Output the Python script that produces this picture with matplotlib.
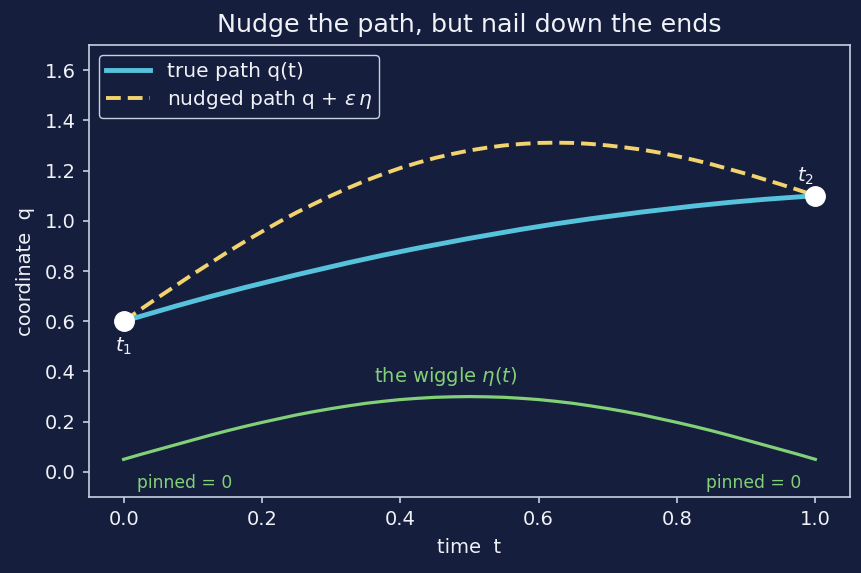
import matplotlib
matplotlib.use("Agg")
import matplotlib.pyplot as plt

t = [0.000, 0.025, 0.050, 0.075, 0.100, 0.125, 0.150, 0.175, 0.200, 0.225,
     0.250, 0.275, 0.300, 0.325, 0.350, 0.375, 0.400, 0.425, 0.450, 0.475,
     0.500, 0.525, 0.550, 0.575, 0.600, 0.625, 0.650, 0.675, 0.700, 0.725,
     0.750, 0.775, 0.800, 0.825, 0.850, 0.875, 0.900, 0.925, 0.950, 0.975, 1.000]
q_true = [0.600, 0.620, 0.640, 0.660, 0.679, 0.698, 0.716, 0.734, 0.751, 0.768,
          0.785, 0.801, 0.817, 0.833, 0.848, 0.863, 0.877, 0.891, 0.904, 0.917,
          0.930, 0.942, 0.954, 0.966, 0.977, 0.988, 0.998, 1.008, 1.017, 1.026,
          1.035, 1.043, 1.051, 1.059, 1.066, 1.073, 1.079, 1.085, 1.090, 1.095, 1.100]
q_nudged = [0.600, 0.648, 0.695, 0.741, 0.787, 0.831, 0.875, 0.917, 0.957, 0.996,
            1.033, 1.067, 1.100, 1.131, 1.160, 1.186, 1.210, 1.231, 1.250, 1.266,
            1.280, 1.291, 1.300, 1.306, 1.310, 1.311, 1.310, 1.306, 1.300, 1.292,
            1.283, 1.271, 1.257, 1.242, 1.225, 1.206, 1.187, 1.166, 1.145, 1.123, 1.100]
wiggle = [0.050, 0.070, 0.089, 0.108, 0.127, 0.146, 0.164, 0.181, 0.197, 0.212,
          0.227, 0.240, 0.252, 0.263, 0.273, 0.281, 0.288, 0.293, 0.297, 0.299,
          0.300, 0.299, 0.297, 0.293, 0.288, 0.281, 0.273, 0.263, 0.252, 0.240,
          0.227, 0.212, 0.197, 0.181, 0.164, 0.146, 0.127, 0.108, 0.089, 0.070, 0.050]
end_t = [0.0, 1.0]
end_q = [0.6, 1.1]

BG = "#151f3d"
FG = "#f0f2f8"
SPINE = "#c9d0e0"
BLUE = "#56c2dc"
YELLOW = "#f3d36e"
GREEN = "#82d077"

fig = plt.figure(figsize=(8.62, 5.73), dpi=100, facecolor=BG)
ax = fig.add_axes([0.1033, 0.1326, 0.8827, 0.7889], facecolor=BG)

ax.plot(t, q_true, color=BLUE, lw=3.5, label="true path q(t)", zorder=3)
ax.plot(t, q_nudged, color=YELLOW, lw=2.8, ls=(0, (3.8, 1.8)),
        label=r"nudged path q + $\varepsilon\,\eta$", zorder=3)
ax.plot(t, wiggle, color=GREEN, lw=2.3, zorder=3)
ax.plot(end_t, end_q, "o", color="white", ms=14, zorder=5, ls="none")

ax.text(0.0, 0.50, r"$t_1$", color=FG, fontsize=14, ha="center", va="center")
ax.text(0.985, 1.175, r"$t_2$", color=FG, fontsize=14, ha="center", va="center")
ax.text(0.465, 0.38, r"the wiggle $\eta(t)$", color=GREEN, fontsize=14,
        ha="center", va="center")
ax.text(0.02, -0.045, "pinned = 0", color=GREEN, fontsize=12.3, ha="left", va="center")
ax.text(0.98, -0.045, "pinned = 0", color=GREEN, fontsize=12.3, ha="right", va="center")

ax.set_xlim(-0.05, 1.05)
ax.set_ylim(-0.1, 1.7)
ax.set_xticks([0.0, 0.2, 0.4, 0.6, 0.8, 1.0])
ax.set_yticks([0.0, 0.2, 0.4, 0.6, 0.8, 1.0, 1.2, 1.4, 1.6])

for s in ax.spines.values():
    s.set_color(SPINE)
    s.set_linewidth(1.2)
ax.tick_params(colors=SPINE, labelcolor=FG, labelsize=14, length=4.5, width=1.2, pad=5)

ax.set_xlabel("time  t", color=FG, fontsize=14, labelpad=6)
ax.set_ylabel("coordinate  q", color=FG, fontsize=14, labelpad=7)
ax.set_title("Nudge the path, but nail down the ends", color=FG, fontsize=18.3, pad=9)

leg = ax.legend(loc="upper left", fontsize=14.5, facecolor=BG, edgecolor=SPINE,
                framealpha=1.0, labelcolor=FG, handlelength=2.2, labelspacing=0.35,
                borderpad=0.35)
leg.get_frame().set_linewidth(1.0)

fig.savefig("out.png", dpi=100, facecolor=BG)
